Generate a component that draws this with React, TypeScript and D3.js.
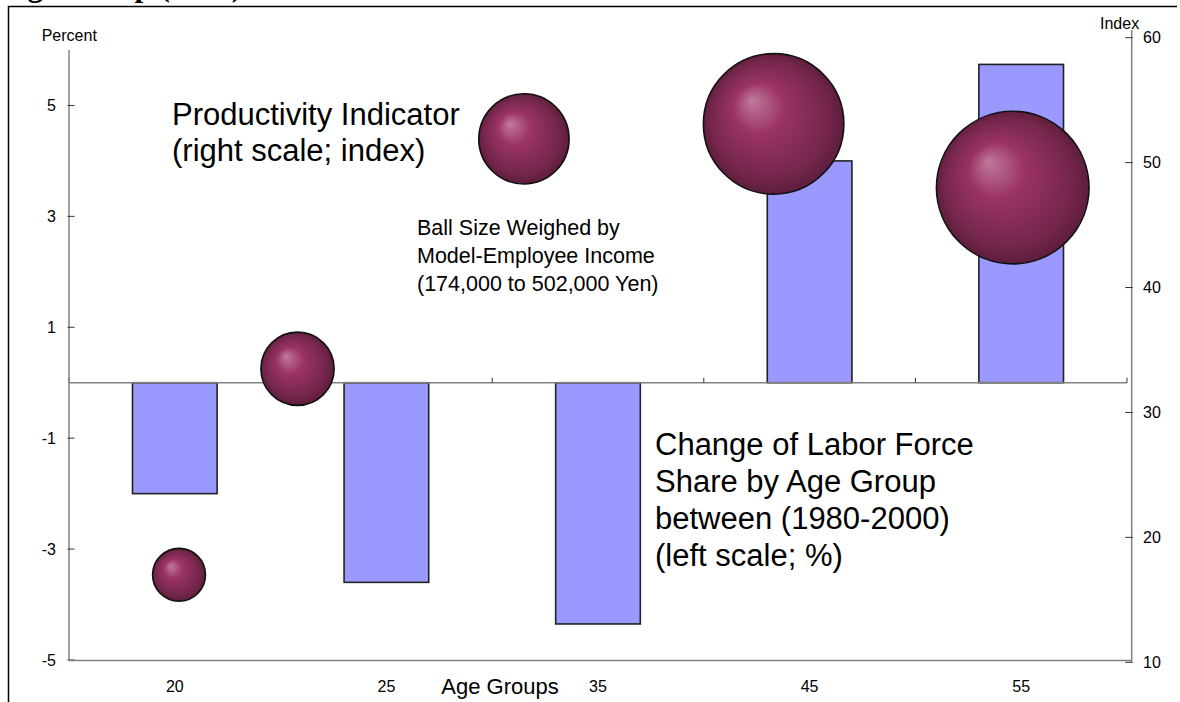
import React from "react";
import * as d3 from "d3";

// ---------- data ----------
const categories = ["20", "25", "35", "45", "55"];
// Change of labor force share by age group, 1980-2000 (left scale, %)
const laborShareChange = [-2.0, -3.6, -4.35, 4.0, 5.74];
// Productivity indicator bubbles (right scale, index)
const bubbleX = [0.52, 1.08, 2.15, 3.33, 4.46]; // position along the category axis (category units)
const productivityIndex = [17.0, 33.5, 51.9, 53.1, 48.0];
const modelIncome = [174, 241, 297, 462, 502]; // thousand yen
const leftTicks = [-5, -3, -1, 1, 3, 5];
const rightTicks = [10, 20, 30, 40, 50, 60];

const W = 1180;
const H = 702;
const FONT = "'Liberation Sans', Arial, Helvetica, sans-serif";

export default function App() {
  const plotL = 69;
  const plotR = 1127;
  const rightAxisX = 1131.7;

  const x = d3
    .scaleBand<string>()
    .domain(categories)
    .range([plotL, plotR])
    .paddingInner(0.6)
    .paddingOuter(0.3);
  const xb = d3.scaleLinear().domain([0, categories.length]).range([plotL, plotR]);
  const yL = d3.scaleLinear().domain([-5, 6]).range([660, 50]);
  const yR = d3.scaleLinear().domain([10, 60]).range([662.3, 37.7]);
  const r = d3.scaleLinear().domain([0, 502]).range([0, 76.3]);

  const y0 = yL(0);
  const boundaries = d3.range(categories.length + 1).map((i) => xb(i));

  return (
    <svg
      width={W}
      height={H}
      viewBox={`0 0 ${W} ${H}`}
      style={{ position: "absolute", left: 0, top: 0, background: "#fff" }}
      fontFamily={FONT}
    >
      <defs>
        <radialGradient id="ball" cx="50%" cy="50%" r="52%" fx="34%" fy="33%">
          <stop offset="0%" stopColor="#c07a9b" />
          <stop offset="35%" stopColor="#9b3366" />
          <stop offset="80%" stopColor="#74264b" />
          <stop offset="100%" stopColor="#5a1c3a" />
        </radialGradient>
      </defs>
      <rect x={0} y={0} width={W} height={H} fill="#fff" />

      {/* cropped title (only its lower edge is visible in the figure) */}
      <text x={5} y={-4} fontFamily="'Liberation Serif', 'Times New Roman', serif" fontWeight="bold" fontSize={31} fill="#000">
        Age Group (2000)
      </text>

      {/* outer frame */}
      <path d={`M8.5,${H} V6.5 H1177`} fill="none" stroke="#000" strokeWidth={1.5} />

      {/* bars */}
      {categories.map((c, i) => {
        const v = laborShareChange[i];
        const top = yL(Math.max(0, v));
        const bot = yL(Math.min(0, v));
        return (
          <rect
            key={c}
            x={x(c)}
            y={top}
            width={x.bandwidth()}
            height={bot - top}
            fill="#9999ff"
            stroke="#222"
            strokeWidth={1.6}
          />
        );
      })}

      {/* zero (category) line with boundary ticks */}
      <line x1={plotL} x2={plotR} y1={y0} y2={y0} stroke="#808080" strokeWidth={1.5} />
      {boundaries.map((b, i) => (
        <line key={i} x1={b} x2={b} y1={y0} y2={y0 - 5} stroke="#333" strokeWidth={1} />
      ))}

      {/* left axis */}
      <line x1={plotL} x2={plotL} y1={yL(6)} y2={yL(-5)} stroke="#808080" strokeWidth={1.5} />
      {leftTicks.map((t) => (
        <g key={t}>
          <line x1={plotL - 1.5} x2={plotL + 5.5} y1={yL(t)} y2={yL(t)} stroke="#333" strokeWidth={1} />
          <text x={56} y={yL(t)} dy="0.36em" textAnchor="end" fontSize={16} fill="#000">
            {t}
          </text>
        </g>
      ))}
      <text x={41.7} y={41} fontSize={16} fill="#000">
        Percent
      </text>

      {/* bottom line */}
      <line x1={plotL} x2={rightAxisX} y1={660.5} y2={660.5} stroke="#808080" strokeWidth={1.5} />

      {/* right axis */}
      <line x1={rightAxisX} x2={rightAxisX} y1={30} y2={yR(10)} stroke="#808080" strokeWidth={1.5} />
      {rightTicks.map((t) => (
        <g key={t}>
          <line x1={rightAxisX - 6.5} x2={rightAxisX + 1} y1={yR(t)} y2={yR(t)} stroke="#333" strokeWidth={1} />
          <text x={1143} y={yR(t)} dy="0.36em" textAnchor="start" fontSize={16} fill="#000">
            {t}
          </text>
        </g>
      ))}
      <text x={1100} y={29} fontSize={16} fill="#000">
        Index
      </text>

      {/* category labels */}
      {categories.map((c) => (
        <text key={c} x={(x(c) as number) + x.bandwidth() / 2} y={692} textAnchor="middle" fontSize={16} fill="#000">
          {c}
        </text>
      ))}
      <text x={500} y={694} textAnchor="middle" fontSize={22} fill="#000">
        Age Groups
      </text>

      {/* bubbles */}
      {productivityIndex.map((v, i) => (
        <circle
          key={i}
          cx={xb(bubbleX[i])}
          cy={yR(v)}
          r={r(modelIncome[i])}
          fill="url(#ball)"
          stroke="#111"
          strokeWidth={1.6}
        />
      ))}

      {/* annotations */}
      <text fontSize={31} fill="#000">
        <tspan x={172} y={125}>Productivity Indicator</tspan>
        <tspan x={172} y={161}>(right scale; index)</tspan>
      </text>
      <text fontSize={21.5} fill="#000">
        <tspan x={417} y={235}>Ball Size Weighed by</tspan>
        <tspan x={417} y={263}>Model-Employee Income</tspan>
        <tspan x={417} y={291}>(174,000 to 502,000 Yen)</tspan>
      </text>
      <text fontSize={31} fill="#000">
        <tspan x={655} y={455}>Change of Labor Force</tspan>
        <tspan x={655} y={492}>Share by Age Group</tspan>
        <tspan x={655} y={529}>between (1980-2000)</tspan>
        <tspan x={655} y={566}>(left scale; %)</tspan>
      </text>
    </svg>
  );
}
